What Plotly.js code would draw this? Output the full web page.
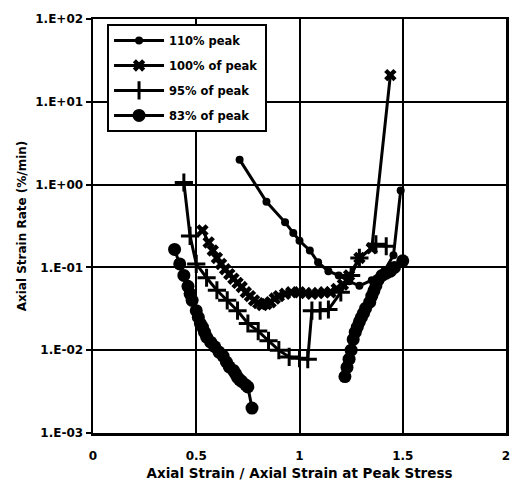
<!DOCTYPE html>
<html>
<head>
<meta charset="utf-8">
<script src="https://cdn.plot.ly/plotly-3.0.1.min.js"></script>
<style>html,body{margin:0;padding:0;background:#fff;}#chart{width:511px;height:483px;}</style>
</head>
<body>
<div id="chart"></div>
<script>
// Series names
const seriesNames = ["110% peak", "100% of peak", "95% of peak", "83% of peak"];

// 110% peak
const x110 = [0.71, 0.84, 0.93, 0.97, 1.00, 1.05, 1.09, 1.14, 1.19, 1.24, 1.29, 1.35, 1.41, 1.455, 1.49];
const y110 = [2.0, 0.62, 0.35, 0.26, 0.21, 0.16, 0.115, 0.09, 0.08, 0.068, 0.06, 0.07, 0.09, 0.14, 0.85];

// 100% of peak
const x100 = [0.53, 0.56, 0.58, 0.60, 0.62, 0.64, 0.66, 0.68, 0.70, 0.72, 0.74, 0.76, 0.78, 0.80, 0.82, 0.84, 0.86, 0.88, 0.90, 0.93, 0.96, 1.00, 1.03, 1.06, 1.09, 1.12, 1.15, 1.18, 1.21, 1.24, 1.29, 1.35, 1.44];
const y100 = [0.28, 0.2, 0.16, 0.13, 0.11, 0.095, 0.083, 0.073, 0.065, 0.058, 0.05, 0.045, 0.04, 0.037, 0.035, 0.036, 0.038, 0.042, 0.045, 0.048, 0.05, 0.05, 0.049, 0.048, 0.049, 0.05, 0.05, 0.055, 0.062, 0.08, 0.13, 0.17, 21];

// 95% of peak
const x95 = [0.44, 0.47, 0.50, 0.55, 0.60, 0.65, 0.70, 0.75, 0.80, 0.85, 0.90, 0.95, 1.00, 1.04, 1.06, 1.10, 1.14, 1.20, 1.25, 1.29, 1.37, 1.42];
const y95 = [1.06, 0.24, 0.11, 0.075, 0.053, 0.04, 0.03, 0.021, 0.017, 0.013, 0.01, 0.0083, 0.008, 0.0078, 0.03, 0.03, 0.031, 0.05, 0.08, 0.13, 0.19, 0.18];

// 83% of peak (two segments separated by a gap)
const x83 = [0.395, 0.42, 0.44, 0.46, 0.47, 0.48, 0.50, 0.51, 0.52, 0.53, 0.54, 0.55, 0.57, 0.59, 0.61, 0.63, 0.646, 0.66, 0.68, 0.69, 0.70, 0.71, 0.72, 0.74, 0.75, 0.77, null,
             1.22, 1.23, 1.24, 1.25, 1.26, 1.27, 1.28, 1.29, 1.30, 1.31, 1.32, 1.34, 1.35, 1.36, 1.37, 1.38, 1.40, 1.42, 1.44, 1.46, 1.50];
const y83 = [0.165, 0.11, 0.08, 0.059, 0.048, 0.04, 0.03, 0.025, 0.021, 0.019, 0.0165, 0.0144, 0.0125, 0.011, 0.0095, 0.0085, 0.0072, 0.0063, 0.0057, 0.0052, 0.0047, 0.0044, 0.0042, 0.0038, 0.0036, 0.002, null,
             0.0048, 0.0062, 0.0078, 0.01, 0.0135, 0.0165, 0.019, 0.022, 0.025, 0.028, 0.032, 0.038, 0.045, 0.052, 0.06, 0.07, 0.08, 0.085, 0.09, 0.1, 0.12];

// Axis ticks
const yTickVals = [0.001, 0.01, 0.1, 1, 10, 100];
const yTickText = ["1.E-03", "1.E-02", "1.E-01", "1.E+00", "1.E+01", "1.E+02"];
const xTickVals = [0, 0.5, 1, 1.5, 2];
const xTickText = ["0", "0.5", "1", "1.5", "2"];

const fontFam = "DejaVu Sans, Arial, sans-serif";
const black = "#000";

const traces = [
  {x: x110, y: y110, name: seriesNames[0], legendgroup: "a", mode: "lines+markers",
   line: {color: black, width: 3}, marker: {symbol: "circle", size: 8, color: black}},
  {x: x100, y: y100, name: seriesNames[1], legendgroup: "b", mode: "lines+markers",
   line: {color: black, width: 3}, marker: {symbol: "x", size: 11, color: black}},
  {x: x95, y: y95, name: seriesNames[2], legendgroup: "c", mode: "lines+markers",
   line: {color: black, width: 3}, marker: {symbol: "cross-thin-open", size: 13, color: black, line: {color: black, width: 3}}},
  {x: x83, y: y83, name: seriesNames[3], legendgroup: "d", mode: "lines+markers", connectgaps: false,
   line: {color: black, width: 3}, marker: {symbol: "circle", size: 13, color: black}}
];

const layout = {
  width: 511, height: 483,
  margin: {l: 93, r: 5, t: 19, b: 50},
  paper_bgcolor: "#fff", plot_bgcolor: "#fff",
  font: {family: fontFam, size: 11, color: black, weight: "bold"},
  showlegend: true,
  legend: {
    x: 0.034, y: 0.988, xanchor: "left", yanchor: "top",
    bgcolor: "#fff", bordercolor: black, borderwidth: 2,
    font: {family: fontFam, size: 11.5, color: black, weight: "bold"},
    traceorder: "grouped", tracegroupgap: 6, itemwidth: 52
  },
  xaxis: {
    range: [0, 2], tickvals: xTickVals, ticktext: xTickText,
    showgrid: true, gridcolor: black, gridwidth: 2,
    showline: true, linecolor: black, linewidth: 2.5, mirror: true,
    ticks: "", ticklabelstandoff: 10, zeroline: false,
    tickfont: {family: fontFam, size: 12, color: black, weight: "bold"},
    title: {text: "Axial Strain / Axial Strain at Peak Stress", standoff: 7,
            font: {family: fontFam, size: 13.5, color: black, weight: "bold"}}
  },
  yaxis: {
    type: "log", range: [-3, 2], tickvals: yTickVals, ticktext: yTickText,
    showgrid: true, gridcolor: black, gridwidth: 2,
    showline: true, linecolor: black, linewidth: 2.5, mirror: true,
    ticks: "outside", ticklen: 5, tickwidth: 2, tickcolor: black, zeroline: false,
    tickfont: {family: fontFam, size: 12, color: black, weight: "bold"},
    title: {text: "Axial Strain Rate (%/min)", standoff: 6,
            font: {family: fontFam, size: 12, color: black, weight: "bold"}}
  }
};

Plotly.newPlot("chart", traces, layout, {displayModeBar: false, staticPlot: true}).then(function (gd) {
  // lengthen the legend line samples to match the reference
  gd.querySelectorAll(".legend .traces").forEach(function (t) {
    t.querySelectorAll(".legendlines path").forEach(function (p) { p.setAttribute("d", "M5,0h50"); });
    t.querySelectorAll(".legendsymbols path.scatterpts").forEach(function (p) { p.setAttribute("transform", "translate(30,0)"); });
    t.querySelectorAll(".legendtext").forEach(function (tx) { tx.setAttribute("x", "60"); });
  });
});
</script>
</body>
</html>
